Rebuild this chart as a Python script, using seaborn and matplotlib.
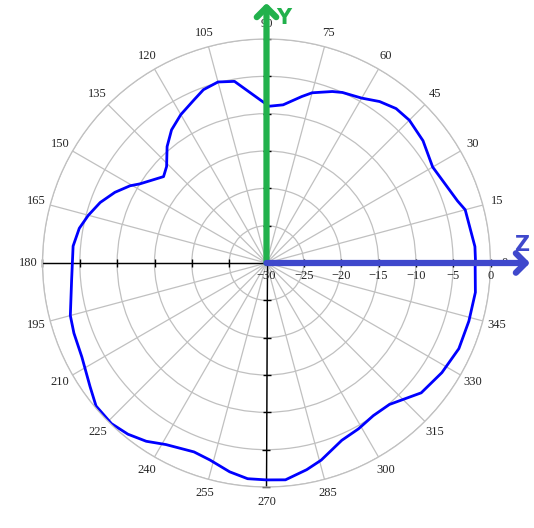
import numpy as np
import pandas as pd
import matplotlib
matplotlib.use("Agg")
import matplotlib.pyplot as plt
import seaborn as sns

# radiation pattern (angle in degrees, gain in dB)
angles = [0, 4.5, 15, 18, 30, 38, 45, 50, 55, 60, 66, 69, 75, 78, 84, 89,
          92, 100, 105, 110, 114, 120, 125.5, 130.5, 136, 140, 148, 150.5,
          155, 160, 165, 169.5, 175, 180, 185, 195, 200, 207, 215, 220, 226,
          231, 236, 241, 249, 254, 260, 265, 270, 275, 281, 285.5, 293, 299,
          305, 311, 320, 328, 336, 344, 352, 359]
gain = [-2.0, -2.0, -2.45, -3.1, -4.3, -3.4, -2.95, -3.0, -3.6, -4.5, -5.0,
        -5.4, -6.4, -7.2, -8.7, -9.0, -8.2, -5.3, -4.9, -5.3, -6.1, -7.05,
        -8.1, -9.5, -11.4, -12.0, -10.0, -9.0, -7.6, -6.3, -5.3, -4.5, -4.0,
        -4.0, -3.8, -2.8, -2.55, -2.25, -1.15, -0.2, -0.1, -0.5, -1.2, -2.2,
        -2.9, -2.55, -1.6, -1.0, -0.95, -0.85, -1.8, -2.6, -4.2, -4.6, -5.05,
        -4.9, -2.95, -2.3, -1.8, -1.8, -1.75, -2.05]
angle_ticks = list(range(0, 360, 15))
r_ticks = [-30, -25, -20, -15, -10, -5, 0]

sns.set_style("white")
plt.rcParams["font.family"] = ["Liberation Serif", "DejaVu Serif"]

W, H = 534, 528
fig = plt.figure(figsize=(W / 100, H / 100), dpi=100)
cx, cy, R = 266.5, 265, 224
ax = fig.add_axes([(cx - R) / W, (cy - R) / H, 2 * R / W, 2 * R / H],
                  projection="polar")
ax.set_rlim(-30, 0)
ax.set_thetagrids(angle_ticks, [str(a) for a in angle_ticks], fontsize=9)
ax.set_rgrids(r_ticks[1:], labels=[""] * 6)
ax.grid(True, color="#c0c0c0", lw=0.9)
ax.spines["polar"].set_color("#c0c0c0")
ax.spines["polar"].set_linewidth(0.9)
ax.tick_params(axis="x", pad=0)

# black cross axes with ticks
for t in [0, 90, 180, 270]:
    ax.plot([np.radians(t)] * 2, [-30, 0], color="black", lw=1)
    marker = "|" if t in (0, 180) else "_"
    ax.plot([np.radians(t)] * 6, r_ticks[1:], ls="none", marker=marker,
            color="black", ms=6, mew=1, clip_on=False)

df = pd.DataFrame({"theta": np.radians(angles + [360]),
                   "gain": gain + [gain[0]]})
sns.lineplot(data=df, x="theta", y="gain", ax=ax, sort=False, estimator=None,
             color="#0000ff", lw=2)
ax.set_xlabel("")
ax.set_ylabel("")

# radial labels below the horizontal axis
shift = matplotlib.transforms.ScaledTranslation(0, -5 / 72, fig.dpi_scale_trans)
for r in r_ticks:
    ax.text(0, r, "\u2212%d" % abs(r) if r else "0", ha="center", va="top",
            fontsize=9, transform=ax.transData + shift)

# coloured coordinate arrows
green = "#22b14c"
blue = "#3f48cc"
fig.patches.append(matplotlib.patches.FancyArrowPatch(
    (cx, cy), (cx, H - 3), transform=None, arrowstyle="->,head_length=0.5,head_width=0.5",
    mutation_scale=14, color=green, lw=4.5, shrinkA=0, shrinkB=0))
fig.patches.append(matplotlib.patches.FancyArrowPatch(
    (cx, cy), (W - 4, cy), transform=None, arrowstyle="->,head_length=0.5,head_width=0.5",
    mutation_scale=14, color=blue, lw=4.5, shrinkA=0, shrinkB=0))
fig.text(276 / W, 1 - 18 / H, "Y", color=green, fontsize=15, fontweight="bold",
         family="DejaVu Sans", ha="left", va="center")
fig.text(522 / W, 1 - 245 / H, "Z", color=blue, fontsize=15, fontweight="bold",
         family="DejaVu Sans", ha="center", va="center")

fig.savefig("out.png", dpi=100)
